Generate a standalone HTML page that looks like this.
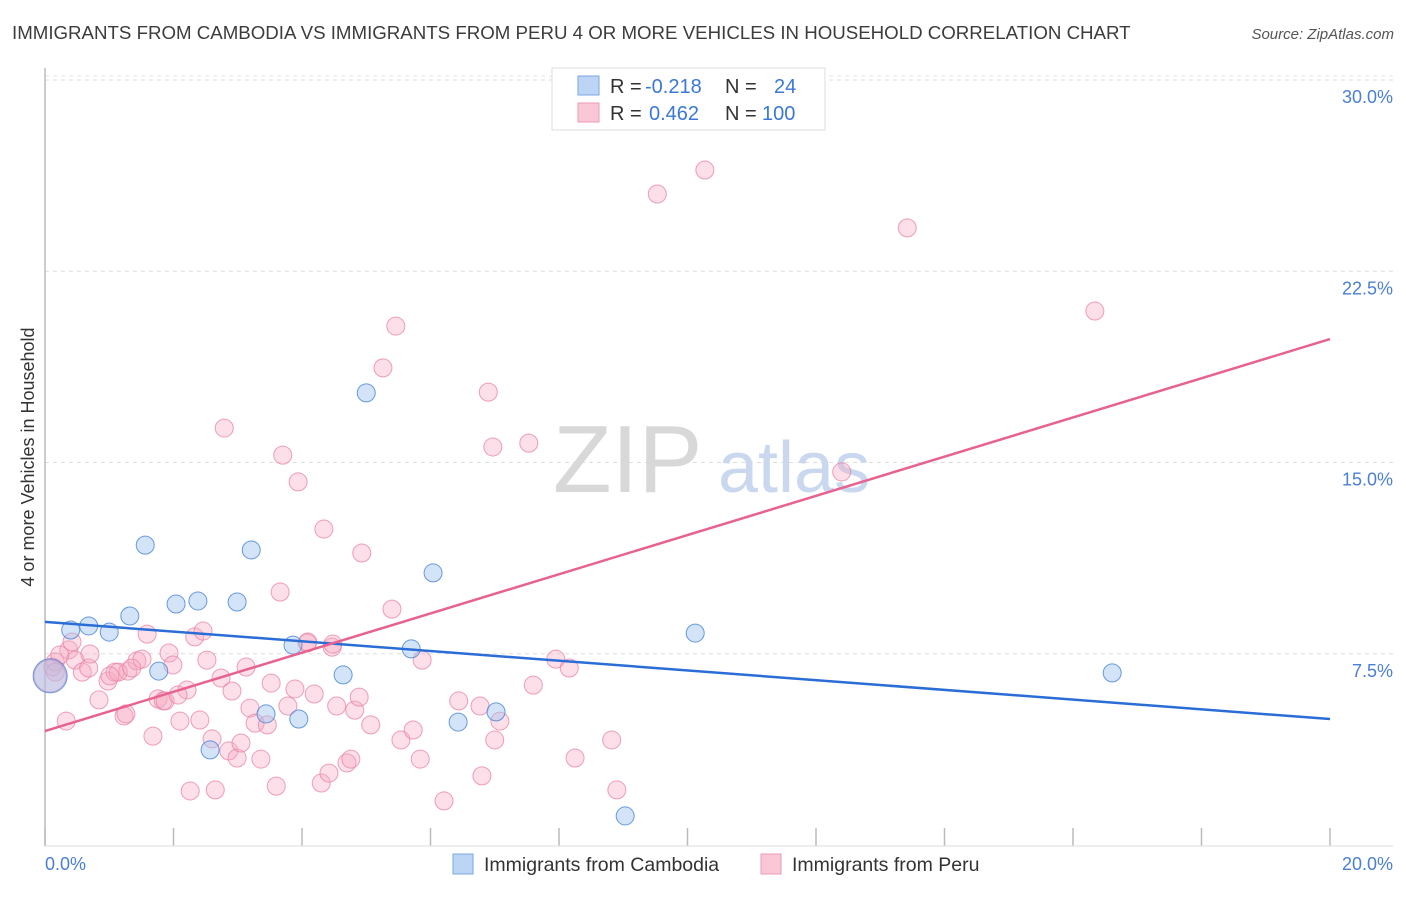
<!DOCTYPE html>
<html><head><meta charset="utf-8"><style>
body{margin:0;background:#fff;font-family:"Liberation Sans",sans-serif;}
svg text{font-family:"Liberation Sans",sans-serif;}
</style></head><body>
<svg id="chart" width="1406" height="892" viewBox="0 0 1406 892">
<text x="12" y="39" font-size="18.7" fill="#3c3c3c">IMMIGRANTS FROM CAMBODIA VS IMMIGRANTS FROM PERU 4 OR MORE VEHICLES IN HOUSEHOLD CORRELATION CHART</text>
<text x="1394" y="39" font-size="15" fill="#555" font-style="italic" text-anchor="end">Source: ZipAtlas.com</text>
<g id="grid"></g>
<g>
<text x="553" y="492" font-size="96" fill="#d8d8d8" font-family="Liberation Serif,serif">ZIP</text>
<text x="718" y="492" font-size="72" fill="#c9d8ef">atlas</text>
</g>
<line x1="45" y1="68" x2="45" y2="846" stroke="#bbb" stroke-width="1.5"/>
<g id="xticks"></g>
<g id="yticks"></g>
<g id="pink"></g>
<g id="blue"></g>
<g id="lines"></g>
<text x="0" y="0" transform="translate(34,457) rotate(-90)" font-size="18" fill="#333" text-anchor="middle">4 or more Vehicles in Household</text>
<text x="45" y="870" font-size="18" fill="#4a7fd4">0.0%</text>
<text x="1393" y="870" font-size="18" fill="#4a7fd4" text-anchor="end">20.0%</text>
<g>
<rect x="552" y="68" width="273" height="62" fill="#fff" stroke="#ddd"/>
<rect x="578" y="76" width="21" height="19" fill="#bcd5f5" stroke="#7aa6e0"/>
<rect x="578" y="103" width="21" height="19" fill="#f9c7d6" stroke="#ee9ab5"/>
<text x="610" y="93" font-size="20" fill="#333">R = <tspan fill="#3b78d6" x="645">-0.218</tspan></text>
<text x="725" y="93" font-size="20" fill="#333">N = <tspan fill="#3b78d6" x="774">24</tspan></text>
<text x="610" y="120" font-size="20" fill="#333">R = <tspan fill="#3b78d6" x="649">0.462</tspan></text>
<text x="725" y="120" font-size="20" fill="#333">N = <tspan fill="#3b78d6" x="762">100</tspan></text>
</g>
<g>
<rect x="453" y="854" width="20" height="20" fill="#bcd5f5" stroke="#7aa6e0"/>
<text x="484" y="871" font-size="19.5" fill="#333">Immigrants from Cambodia</text>
<rect x="761" y="854" width="20" height="20" fill="#f9c7d6" stroke="#ee9ab5"/>
<text x="792" y="871" font-size="19.5" fill="#333">Immigrants from Peru</text>
</g>
</svg>
<script>
const yTicks=[7.5,15,22.5,30];
const yTickLabels=["7.5%","15.0%","22.5%","30.0%"];
const xTickVals=[0,2,4,6,8,10,12,14,16,18,20];
const blueX=[0.08,0.40,0.68,1.00,1.32,1.56,2.04,2.38,2.99,3.21,1.77,2.57,3.44,3.86,3.95,4.64,5.00,5.70,6.04,6.43,7.02,9.03,10.12,16.61];
const blueY=[6.63,8.43,8.59,8.35,8.98,11.76,9.45,9.57,9.53,11.57,6.82,3.73,5.14,7.84,4.94,6.67,17.73,7.69,10.67,4.82,5.22,1.14,8.31,6.75];
const pinkX=[0.12,0.16,0.33,0.37,0.42,0.47,0.58,0.68,0.70,0.84,0.98,1.09,1.23,1.26,1.29,1.43,1.51,1.59,1.68,1.76,1.84,1.93,1.99,2.10,2.21,2.26,2.33,2.41,2.46,2.52,2.60,2.65,2.74,2.79,2.86,2.91,2.99,3.05,3.13,3.19,3.27,3.36,3.46,3.52,3.60,3.66,3.70,3.78,3.89,3.94,4.08,4.19,4.30,4.34,4.42,4.47,4.54,4.70,4.76,4.82,4.89,4.93,5.07,5.26,5.40,5.46,5.54,5.73,5.84,5.87,6.21,6.44,6.77,6.80,6.90,6.97,7.00,7.08,7.53,7.60,7.95,8.16,8.25,8.82,8.90,9.53,10.27,12.40,13.42,16.34,4.09,1.14,1.87,1.35,1.01,0.16,0.23,2.07,4.48,0.08];
const pinkY=[6.98,7.18,4.86,7.65,7.96,7.25,6.78,6.94,7.49,5.69,6.43,6.78,5.06,5.14,6.82,7.22,7.29,8.27,4.27,5.73,5.65,7.53,7.06,4.86,6.08,2.12,8.16,4.90,8.39,7.25,4.16,2.16,6.55,16.35,3.69,6.04,3.41,4.00,6.98,5.37,4.78,3.37,4.71,6.35,2.31,9.92,15.29,5.45,6.12,14.24,7.92,5.92,2.43,12.39,2.82,7.76,5.45,3.22,3.37,5.29,5.80,11.45,4.71,18.71,9.25,20.35,4.12,4.51,3.37,7.25,1.73,5.65,5.45,2.71,17.76,15.61,4.12,4.86,15.76,6.27,7.29,6.94,3.41,4.12,2.16,25.53,26.47,14.63,24.20,20.94,7.96,6.78,5.65,6.94,6.63,6.78,7.45,5.88,7.88,6.63];
const blueTrend=[8.75,4.94];
const pinkTrend=[4.47,19.84];
const sx=v=>45+v/20*1285;
const sy=v=>845-v*25.5;
const NS="http://www.w3.org/2000/svg";
function mk(t,a,p){const e=document.createElementNS(NS,t);for(const k in a)e.setAttribute(k,a[k]);document.getElementById(p).appendChild(e);return e;}
yTicks.forEach((v,i)=>{
 const l=mk('line',{x1:45,x2:1393,y1:sy(v),y2:sy(v),stroke:'#ddd','stroke-dasharray':'4,4'},'grid');
 
 
 const t=mk('text',{x:1393,y:sy(v)+23,'font-size':18,fill:'#4a7fd4','text-anchor':'end'},'yticks');
 t.textContent=yTickLabels[i];
 
 
});
const topGrid=mk('line',{x1:45,x2:1393,y1:sy(30)-4,y2:sy(30)-4,stroke:'#e4e4e4','stroke-dasharray':'4,4'},'grid');


xTickVals.forEach(v=>{
 const l=mk('line',{x1:sx(v),x2:sx(v),y1:828,y2:846,stroke:'#bbb','stroke-width':1.5},'xticks');
 
 
});
const xb=mk('line',{x1:45,x2:1393,y1:846,y2:846,stroke:'#ddd'},'xticks');


pinkX.forEach((v,i)=>{
 const r=i===pinkX.length-1?16:9;
 const c=mk('circle',{cx:sx(v),cy:sy(pinkY[i]),r:r,fill:'rgba(246,170,195,0.38)',stroke:'rgba(232,128,163,0.75)','stroke-width':1},'pink');
 
 
});
blueX.forEach((v,i)=>{
 const r=i===0?17:9;
 const c=mk('circle',{cx:sx(v),cy:sy(blueY[i]),r:r,fill:'rgba(160,196,240,0.45)',stroke:'rgba(70,130,215,0.8)','stroke-width':1},'blue');
 
 
});
const bl=mk('line',{x1:sx(0),y1:sy(blueTrend[0]),x2:sx(20),y2:sy(blueTrend[1]),stroke:'#2a6dd6','stroke-width':2.5},'lines');


const pl=mk('line',{x1:sx(0),y1:sy(pinkTrend[0]),x2:sx(20),y2:sy(pinkTrend[1]),stroke:'#e8628f','stroke-width':2.5},'lines');


</script>
</body></html>
